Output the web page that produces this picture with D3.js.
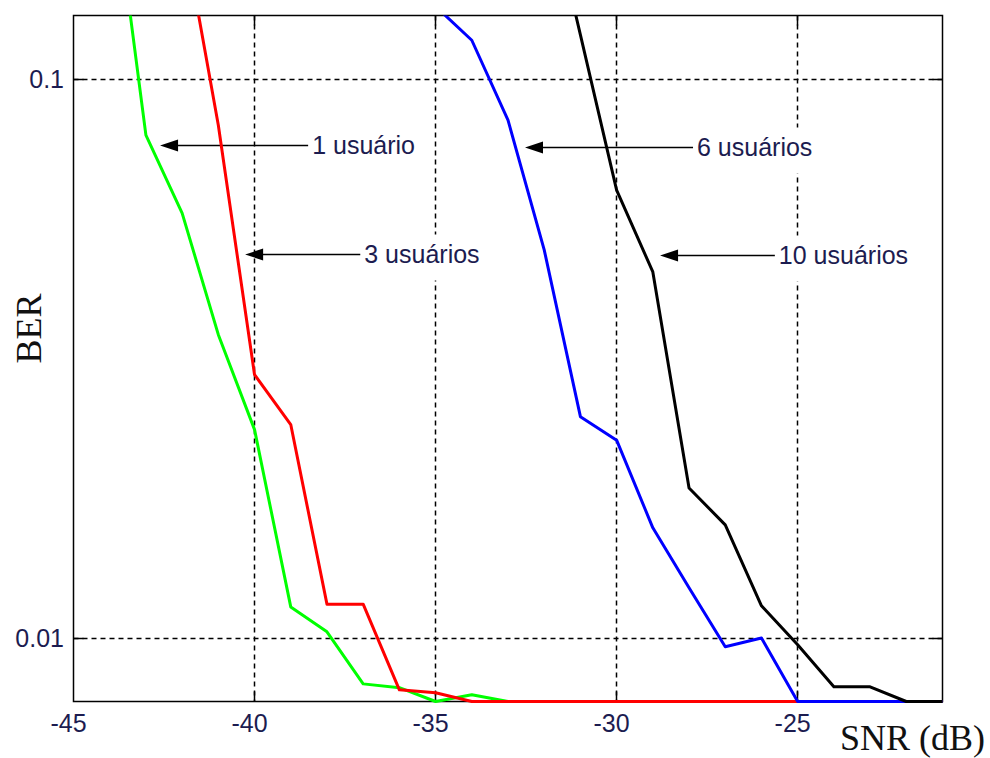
<!DOCTYPE html>
<html>
<head>
<meta charset="utf-8">
<script src="https://cdn.jsdelivr.net/npm/d3@7/dist/d3.min.js"></script>
<style>
  html, body { margin: 0; padding: 0; background: #fff; }
  svg { display: block; }
</style>
</head>
<body>
<svg id="chart" width="990" height="758"></svg>
<script>
// SNR axis samples (dB)
const snr = [-45, -44, -43, -42, -41, -40, -39, -38, -37, -36, -35, -34, -33,
             -32, -31, -30, -29, -28, -27, -26, -25, -24, -23, -22, -21];

// Lowest BER shown on the plot; curves rest on it once errors vanish
const berFloor = 0.0077;
const F = berFloor;

// BER per user count (null = not simulated at that SNR)
const ber1user = [null, 0.25, 0.0794, 0.0576, 0.0349, 0.0236, 0.01137, 0.01026, 0.00828, 0.00815,
                  F, 0.00792, F, F, F, F, F, F, F, F, F, F, F, F, F];
const ber3users = [null, null, null, 0.19, 0.0827, 0.0296, 0.0241, 0.0115, 0.0115, 0.00808,
                   0.00798, F, F, F, F, F, F, F, F, F, F, F, F, F, F];
const ber6users = [null, null, null, null, null, null, null, null, null, null,
                   0.135, 0.1174, 0.0845, 0.0495, 0.0249, 0.0226, 0.01575, 0.0123, 0.00965, 0.0100,
                   F, F, F, F, F];
const ber10users = [null, null, null, null, null, null, null, null, null, null,
                    null, null, null, 0.227, 0.12, 0.0633, 0.0452, 0.01856, 0.01594, 0.01142,
                    0.00973, 0.00818, 0.00818, F, F];

const seriesNames = ["1 usuário", "3 usuários", "6 usuários", "10 usuários"];
const seriesValues = [ber1user, ber3users, ber6users, ber10users];
const seriesColors = ["#00ff00", "#ff0000", "#0000ff", "#000000"];

// Tick values and labels
const xTicks = [-45, -40, -35, -30, -25];
const xTickLabels = ["-45", "-40", "-35", "-30", "-25"];
const yTicks = [0.01, 0.1];
const yTickLabels = ["0.01", "0.1"];

// Annotation arrows: label, BER level, arrow tip SNR, arrow tail SNR
const notes = [
  { text: "1 usuário",   ber: 0.0762, tip: -42.61, tail: -38.52 },
  { text: "3 usuários",  ber: 0.0485, tip: -40.26, tail: -37.08 },
  { text: "6 usuários",  ber: 0.0756, tip: -32.53, tail: -27.89 },
  { text: "10 usuários", ber: 0.0483, tip: -28.80, tail: -25.63 }
];

const svg = d3.select("#chart");
const plot = { left: 73.5, right: 942.5, top: 15.5, bottom: 701.5 };

const x = d3.scaleLinear().domain([-45, -21]).range([plot.left, plot.right]);
const y = d3.scaleLog().domain([berFloor, 0.13]).range([plot.bottom, plot.top]);
// crisp rules
const px = v => Math.round(v - 0.5) + 0.5;

const sansFont = "'Liberation Sans', Arial, sans-serif";
const serifFont = "'Liberation Serif', 'Times New Roman', serif";
const textColor = "#1c1c50";

svg.append("rect").attr("width", 990).attr("height", 758).attr("fill", "#fff");

// Dotted grid
const grid = svg.append("g").attr("stroke", "#000").attr("stroke-width", 1.5)
  .attr("stroke-dasharray", "5,4");
grid.selectAll("line.gx").data(xTicks.slice(1)).join("line")
  .attr("x1", d => px(x(d))).attr("x2", d => px(x(d)))
  .attr("y1", plot.top).attr("y2", plot.bottom);
grid.selectAll("line.gy").data(yTicks).join("line")
  .attr("x1", plot.left).attr("x2", plot.right)
  .attr("y1", d => px(y(d))).attr("y2", d => px(y(d)));

// Layers: white label boxes sit over the grid, curves over the arrows
const boxLayer = svg.append("g");
const frameLayer = svg.append("g");
const arrowLayer = svg.append("g");
const lineLayer = svg.append("g");
const labelLayer = svg.append("g");

// Axes box and inner ticks
frameLayer.append("rect")
  .attr("x", plot.left).attr("y", plot.top)
  .attr("width", plot.right - plot.left).attr("height", plot.bottom - plot.top)
  .attr("fill", "none").attr("stroke", "#000").attr("stroke-width", 1.5);
const tickLen = 10;
const ticks = frameLayer.append("g").attr("stroke", "#000").attr("stroke-width", 1.5);
xTicks.slice(1).forEach(t => {
  const xx = px(x(t));
  ticks.append("line").attr("x1", xx).attr("x2", xx).attr("y1", plot.bottom).attr("y2", plot.bottom - tickLen);
  ticks.append("line").attr("x1", xx).attr("x2", xx).attr("y1", plot.top).attr("y2", plot.top + tickLen);
});
yTicks.forEach(t => {
  const yy = px(y(t));
  ticks.append("line").attr("x1", plot.left).attr("x2", plot.left + tickLen).attr("y1", yy).attr("y2", yy);
  ticks.append("line").attr("x1", plot.right).attr("x2", plot.right - tickLen).attr("y1", yy).attr("y2", yy);
});

// Tick labels
frameLayer.selectAll("text.xt").data(xTicks).join("text")
  .attr("x", d => x(d) - 5).attr("y", 732)
  .attr("text-anchor", "middle")
  .attr("font-family", sansFont).attr("font-size", 25).attr("fill", textColor)
  .text((d, i) => xTickLabels[i]);
frameLayer.selectAll("text.yt").data(yTicks).join("text")
  .attr("x", 64).attr("y", d => y(d) + 9)
  .attr("text-anchor", "end")
  .attr("font-family", sansFont).attr("font-size", 25).attr("fill", textColor)
  .text((d, i) => yTickLabels[i]);

// Axis titles
svg.append("text")
  .attr("x", 985).attr("y", 750).attr("text-anchor", "end")
  .attr("font-family", serifFont).attr("font-size", 36).attr("fill", "#111")
  .text("SNR (dB)");
svg.append("text")
  .attr("transform", "translate(41,328.5) rotate(-90)")
  .attr("text-anchor", "middle")
  .attr("font-family", serifFont).attr("font-size", 36).attr("fill", "#111")
  .text("BER");

// Curves, clipped to the axes area
svg.append("defs").append("clipPath").attr("id", "plotClip")
  .append("rect").attr("x", plot.left).attr("y", plot.top)
  .attr("width", plot.right - plot.left + 1).attr("height", plot.bottom - plot.top + 4);

const line = d3.line()
  .defined(d => d[1] != null)
  .x(d => x(d[0]))
  .y(d => y(d[1]));

lineLayer.attr("clip-path", "url(#plotClip)")
  .selectAll("path").data(seriesValues).join("path")
  .attr("d", vals => line(snr.map((s, i) => [s, vals[i]])))
  .attr("fill", "none")
  .attr("stroke", (d, i) => seriesColors[i])
  .attr("stroke-width", 3)
  .attr("stroke-linejoin", "round");

// Arrows with labels
notes.forEach(n => {
  const yy = px(y(n.ber));
  const tipX = x(n.tip);
  const tailX = x(n.tail);
  arrowLayer.append("line")
    .attr("x1", tipX + 10).attr("x2", tailX)
    .attr("y1", yy).attr("y2", yy)
    .attr("stroke", "#000").attr("stroke-width", 1.5);
  arrowLayer.append("path")
    .attr("d", `M${tipX},${yy} L${tipX + 18},${yy - 6} L${tipX + 18},${yy + 6} Z`)
    .attr("fill", "#000");
  const t = labelLayer.append("text")
    .attr("x", tailX + 4).attr("y", yy + 8)
    .attr("font-family", sansFont).attr("font-size", 25).attr("fill", textColor)
    .text(n.text);
  const bb = t.node().getBBox();
  boxLayer.append("rect")
    .attr("x", bb.x - 3).attr("y", bb.y - 5)
    .attr("width", bb.width + 6).attr("height", bb.height + 18)
    .attr("fill", "#fff");
});
</script>
</body>
</html>
